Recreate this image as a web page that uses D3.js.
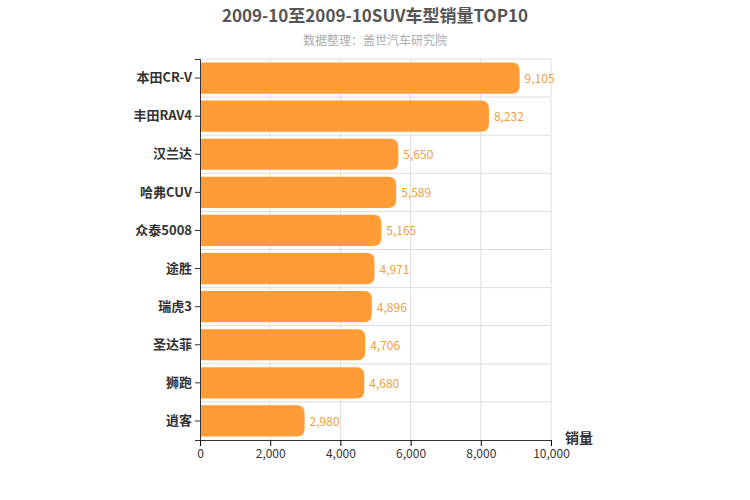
<!DOCTYPE html>
<html><head><meta charset="utf-8">
<script src="https://cdn.jsdelivr.net/npm/d3@7"></script>
<style>body{margin:0;background:#fff}text{font-family:"Noto Sans CJK SC","Noto Sans",sans-serif}</style>
</head><body><div id="chart"></div>
<script>
const categories = ["本田CR-V","丰田RAV4","汉兰达","哈弗CUV","众泰5008","途胜","瑞虎3","圣达菲","狮跑","逍客"];
const sales = [9105,8232,5650,5589,5165,4971,4896,4706,4680,2980];
const xTicks = [0,2000,4000,6000,8000,10000];

const width = 750, height = 500;
const margin = {top: 59, right: 199, bottom: 60, left: 200};

const svg = d3.select("#chart").append("svg").attr("width", width).attr("height", height);

svg.append("text").attr("x", 375).attr("y", 22).attr("text-anchor", "middle")
    .attr("font-size", 17).attr("font-weight", "bold").attr("fill", "#555")
    .text("2009-10至2009-10SUV车型销量TOP10");
svg.append("text").attr("x", 375).attr("y", 45).attr("text-anchor", "middle")
    .attr("font-size", 12).attr("fill", "#aaa").text("数据整理：盖世汽车研究院");

const x = d3.scaleLinear().domain([0, 10000]).range([margin.left, width - margin.right]);
const y = d3.scaleBand().domain(categories).range([margin.top, height - margin.bottom]).paddingInner(0.18).paddingOuter(0.09);
const step = y.step();

// grid
svg.append("g").selectAll("line").data(xTicks.slice(1)).join("line")
    .attr("x1", d => x(d)).attr("x2", d => x(d))
    .attr("y1", margin.top).attr("y2", height - margin.bottom)
    .attr("stroke", "#ddd");
svg.append("g").selectAll("line").data(d3.range(categories.length)).join("line")
    .attr("x1", margin.left).attr("x2", width - margin.right)
    .attr("y1", i => margin.top + i * step).attr("y2", i => margin.top + i * step)
    .attr("stroke", "#ddd");

// bars (rounded right end)
const r = 8;
svg.append("g").selectAll("path").data(sales).join("path")
    .attr("fill", "#ff9c35")
    .attr("d", (d, i) => {
        const x0 = x(0), x1 = x(d), y0 = y(categories[i]), h = y.bandwidth();
        return `M${x0},${y0}H${x1 - r}Q${x1},${y0} ${x1},${y0 + r}V${y0 + h - r}Q${x1},${y0 + h} ${x1 - r},${y0 + h}H${x0}Z`;
    });

svg.append("g").selectAll("text").data(sales).join("text")
    .attr("x", d => x(d) + 5).attr("y", (d, i) => y(categories[i]) + y.bandwidth() / 2 + 5)
    .attr("font-size", 12).attr("fill", "#f0a040").text(d => d3.format(",")(d));

// axes
const xAxis = svg.append("g").attr("transform", `translate(0,${height - margin.bottom})`)
    .call(d3.axisBottom(x).tickValues(xTicks).tickFormat(d3.format(",")).tickSizeOuter(0));
xAxis.select(".domain").attr("stroke", "#333");
xAxis.selectAll("text").attr("font-size", 12).attr("fill", "#333");

const yAxis = svg.append("g").attr("transform", `translate(${margin.left},0)`)
    .call(d3.axisLeft(y).tickSizeOuter(0).tickSize(5));
yAxis.select(".domain").attr("stroke", "#333");
yAxis.selectAll(".tick line").attr("stroke", "#333");
yAxis.selectAll("text").attr("font-size", 13).attr("font-weight", "bold").attr("fill", "#333");

svg.append("text").attr("x", 565).attr("y", 443).attr("font-size", 14).attr("font-weight", "bold")
    .attr("fill", "#333").text("销量");
</script></body></html>
